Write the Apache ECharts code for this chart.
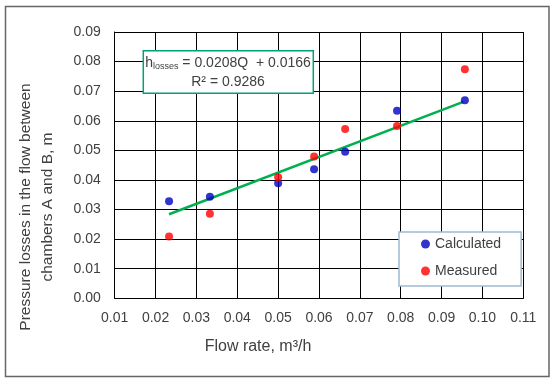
<!DOCTYPE html>
<html>
<head>
<meta charset="utf-8">
<script src="https://cdn.jsdelivr.net/npm/echarts@6/dist/echarts.min.js"></script>
<style>html,body{margin:0;padding:0;background:#fff;}#c{width:550px;height:379px;}</style>
</head>
<body>
<div id="c"></div>
<script>
const flowRate = [0.0233, 0.0333, 0.0500, 0.0588, 0.0664, 0.0791, 0.0957];
const calculated = [0.0328, 0.0343, 0.0389, 0.0436, 0.0495, 0.0634, 0.0669];
const measured = [0.0209, 0.0286, 0.0409, 0.0479, 0.0572, 0.0582, 0.0774];
const trendX = [0.0233, 0.0953];
const trendY = [0.0284, 0.0664];
const xTitle = 'Flow rate, m³/h';
const yTitle = ['Pressure losses in the flow between', 'chambers A and B, m'];

const FONT = 'Liberation Sans';
const chart = echarts.init(document.getElementById('c'), null, {renderer: 'canvas'});
chart.setOption({
  animation: false,
  backgroundColor: '#fff',
  grid: {left: 114.7, right: 26.7, top: 32, bottom: 80.7, containLabel: false},
  xAxis: {
    type: 'value', min: 0.01, max: 0.11, interval: 0.01,
    axisLine: {show: true, lineStyle: {color: '#000', width: 1}},
    axisTick: {show: false},
    splitLine: {show: true, lineStyle: {color: '#000', width: 1}},
    axisLabel: {margin: 13, color: '#404040', fontFamily: FONT, fontSize: 14,
      formatter: v => v.toFixed(2)}
  },
  yAxis: {
    type: 'value', min: 0, max: 0.09, interval: 0.01,
    axisLine: {show: true, lineStyle: {color: '#000', width: 1}},
    axisTick: {show: false},
    splitLine: {show: true, lineStyle: {color: '#000', width: 1}},
    axisLabel: {margin: 14, color: '#404040', fontFamily: FONT, fontSize: 14,
      formatter: v => v.toFixed(2)}
  },
  legend: {
    orient: 'vertical', left: 399, top: 232,
    padding: [5, 20, 8, 22], itemGap: 13,
    backgroundColor: '#fff', borderColor: '#9dbad0', borderWidth: 1.5,
    icon: 'circle', itemWidth: 9, itemHeight: 9,
    textStyle: {color: '#404040', fontFamily: FONT, fontSize: 14},
    data: ['Calculated', 'Measured']
  },
  series: [
    {
      name: 'Trend', type: 'line', data: trendX.map((x, i) => [x, trendY[i]]),
      symbol: 'none', lineStyle: {color: '#00B050', width: 2.5}, z: 2
    },
    {
      name: 'Calculated', type: 'scatter', data: flowRate.map((x, i) => [x, calculated[i]]),
      symbolSize: 8, itemStyle: {color: '#0000C0'}, z: 3
    },
    {
      name: 'Measured', type: 'scatter', data: flowRate.map((x, i) => [x, measured[i]]),
      symbolSize: 8, itemStyle: {color: '#FF0000'}, z: 3
    }
  ],
  graphic: [
    {
      type: 'rect', left: 3, top: 4, z: 0, silent: true,
      shape: {width: 543.5, height: 370},
      style: {fill: 'none', stroke: '#666', lineWidth: 1.5}
    },
    {
      type: 'rect', z: 10, x: 143.3, y: 50.7,
      shape: {width: 170, height: 42.6},
      style: {fill: '#fff', stroke: '#00A07A', lineWidth: 1.5}
    },
    {
      type: 'text', z: 11, x: 228, y: 63.5,
      style: {
        text: '{n|h}{s|losses}{n| = 0.0208Q  + 0.0166}',
        align: 'center', verticalAlign: 'middle',
        rich: {
          n: {fontFamily: FONT, fontSize: 14, fill: '#404040', color: '#404040'},
          s: {fontFamily: FONT, fontSize: 9, fill: '#404040', color: '#404040', padding: [6, 0, 0, 0]}
        }
      }
    },
    {
      type: 'text', z: 11, x: 228, y: 82.5,
      style: {text: 'R² = 0.9286', align: 'center', verticalAlign: 'middle',
        fontFamily: FONT, fontSize: 14, fill: '#404040'}
    },
    {
      type: 'text', z: 5, x: 258, y: 347,
      style: {text: xTitle, align: 'center', verticalAlign: 'middle',
        fontFamily: FONT, fontSize: 16, fill: '#404040'}
    },
    {
      type: 'text', z: 5, x: 36.5, y: 207, rotation: Math.PI / 2,
      style: {text: yTitle.join('\n'), align: 'center', verticalAlign: 'middle',
        lineHeight: 22, fontFamily: FONT, fontSize: 15.5, fill: '#404040'}
    }
  ]
});
</script>
</body>
</html>
